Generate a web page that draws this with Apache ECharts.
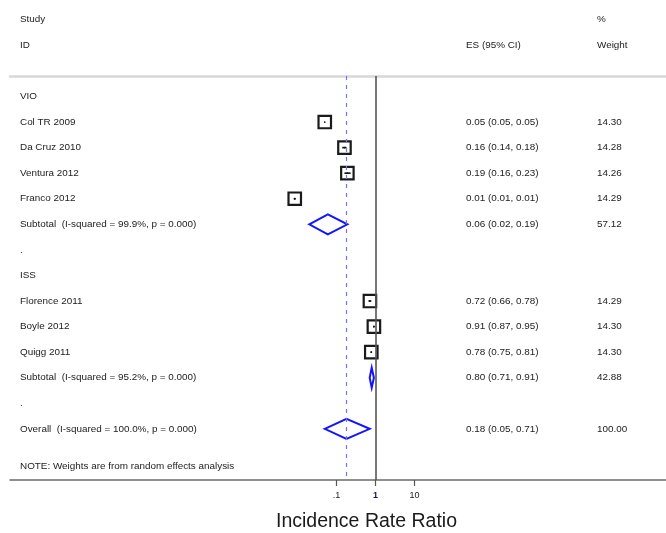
<!DOCTYPE html>
<html>
<head>
<meta charset="utf-8">
<script src="https://cdn.jsdelivr.net/npm/echarts@6/dist/echarts.min.js"></script>
<style>
html,body{margin:0;padding:0;background:#fff;}
#chart{width:666px;height:533px;}
</style>
</head>
<body>
<div id="chart"></div>
<script>
// ---- data ----
const rowLabels = ['VIO', 'Col TR 2009', 'Da Cruz 2010', 'Ventura 2012', 'Franco 2012',
  'Subtotal  (I-squared = 99.9%, p = 0.000)', '.', 'ISS', 'Florence 2011', 'Boyle 2012',
  'Quigg 2011', 'Subtotal  (I-squared = 95.2%, p = 0.000)', '.', 'Overall  (I-squared = 100.0%, p = 0.000)'];
const rowIndex = [0, 1, 2, 3, 4, 5, 6, 7, 8, 9, 10, 11, 12, 13];

const studyRows = [1, 2, 3, 4, 8, 9, 10];
const studyES = [0.05, 0.16, 0.19, 0.0085, 0.72, 0.91, 0.78];
const studyLo = [0.05, 0.14, 0.16, 0.008, 0.66, 0.87, 0.75];
const studyHi = [0.05, 0.18, 0.23, 0.009, 0.78, 0.95, 0.81];
const studyWeight = [14.30, 14.28, 14.26, 14.29, 14.29, 14.30, 14.30];

const pooledRows = [5, 11, 13];
const pooledES = [0.06, 0.80, 0.18];
const pooledLo = [0.02, 0.71, 0.05];
const pooledHi = [0.19, 0.91, 0.71];
const pooledWeight = [57.12, 42.88, 100.00];

const overallES = 0.18;
const nullValue = 1;
const tickValues = [0.1, 1, 10];
const tickLabels = ['.1', '1', '10'];

const headers = { study: 'Study', id: 'ID', es: 'ES (95% CI)', pct: '%', weight: 'Weight' };
const noteText = 'NOTE: Weights are from random effects analysis';
const xTitle = 'Incidence Rate Ratio';

// ---- layout ----
const FONT = '"Liberation Sans", Arial, sans-serif';
const FS = '9.9px ';
const TXT = '#222';
const xLeft = 10, xRight = 666;
const x1 = 375.5, decade = 39;           // pixel of value 1, pixels per decade
const axisY = 480, topY = 76;
const colLabel = 20, colES = 466, colW = 597;

const expMin = (xLeft - x1) / decade;
const expMax = (xRight - x1) / decade;

const studyData = studyRows.map((r, i) => [studyES[i], r, studyLo[i], studyHi[i], studyWeight[i]]);
const pooledData = pooledRows.map((r, i) => [pooledES[i], r, pooledLo[i], pooledHi[i], pooledWeight[i]]);
const fmt = v => v.toFixed(2);
const esText = (e, l, h) => fmt(e) + ' (' + fmt(l) + ', ' + fmt(h) + ')';

function textEl(x, y, text, opts) {
  return {
    type: 'text', x: x, y: y,
    style: Object.assign({ text: text, fill: TXT, font: FS + FONT, verticalAlign: 'middle', align: 'left' }, opts || {})
  };
}

const chart = echarts.init(document.getElementById('chart'), null, { renderer: 'canvas' });

const option = {
  backgroundColor: '#fff',
  animation: false,
  grid: [
    { left: xLeft, right: 666 - xRight, top: topY, bottom: 533 - axisY },
    { left: x1 - decade, right: 666 - (x1 + decade), top: topY, bottom: 533 - axisY }
  ],
  xAxis: [
    {
      gridIndex: 0, type: 'log', logBase: 10, position: 'bottom',
      min: Math.pow(10, expMin), max: Math.pow(10, expMax),
      axisLine: { show: true, onZero: false, lineStyle: { color: '#6a6a6a', width: 1.5 } },
      axisTick: { show: false }, axisLabel: { show: false }, splitLine: { show: false }
    },
    {
      gridIndex: 0, type: 'value', position: 'top', min: 0, max: 1,
      axisLine: { show: true, onZero: false, lineStyle: { color: '#d8d8d8', width: 2.5 } },
      axisTick: { show: false }, axisLabel: { show: false }, splitLine: { show: false }
    },
    {
      gridIndex: 1, type: 'log', logBase: 10, min: tickValues[0], max: tickValues[tickValues.length - 1],
      splitNumber: 2,
      axisLine: { show: false, onZero: false },
      axisTick: { show: true, length: 6, lineStyle: { color: '#555', width: 1.2 } },
      axisLabel: {
        show: true, margin: 11, fontSize: 9, fontFamily: FONT, color: TXT,
        formatter: function (v) {
          const e = Math.round(Math.log10(v));
          const idx = tickValues.findIndex(t => Math.round(Math.log10(t)) === e);
          if (idx < 0) return '';
          return tickValues[idx] === nullValue ? '{b|' + tickLabels[idx] + '}' : tickLabels[idx];
        },
        rich: { b: { fontWeight: 'bold', fontSize: 9, fontFamily: FONT, color: '#1a1a40' } }
      },
      splitLine: { show: false }
    }
  ],
  yAxis: [
    { gridIndex: 0, type: 'value', inverse: true, min: -0.8, max: 15, show: false },
    { gridIndex: 1, type: 'value', show: false }
  ],
  graphic: [
    textEl(colLabel, 19, headers.study),
    textEl(colLabel, 45.5, headers.id),
    textEl(colES, 45.5, headers.es),
    textEl(colW, 19, headers.pct),
    textEl(colW, 45.5, headers.weight),
    textEl(colLabel, 466, noteText),
    {
      type: 'text', x: (x1 - 9), y: 522,
      style: { text: xTitle, fill: '#1a1a1a', font: '19.5px ' + FONT, align: 'center', verticalAlign: 'middle' }
    }
  ],
  series: [
    {
      type: 'custom', xAxisIndex: 0, yAxisIndex: 0, silent: true, clip: false,
      data: rowIndex.map(r => [1, r]),
      renderItem: function (params, api) {
        const p = api.coord([1, api.value(1)]);
        return { type: 'text', x: colLabel, y: p[1],
          style: { text: rowLabels[params.dataIndex], fill: TXT, font: FS + FONT, verticalAlign: 'middle' } };
      }
    },
    {
      type: 'custom', xAxisIndex: 0, yAxisIndex: 0, silent: true, clip: false,
      data: studyData,
      renderItem: function (params, api) {
        const r = api.value(1);
        const c = api.coord([api.value(0), r]);
        const lo = api.coord([api.value(2), r]);
        const hi = api.coord([api.value(3), r]);
        const side = 3.3 * Math.sqrt(api.value(4));
        const i = params.dataIndex;
        return {
          type: 'group', children: [
            { type: 'line', shape: { x1: lo[0], y1: c[1], x2: hi[0], y2: c[1] }, style: { stroke: '#111', lineWidth: 1.6 } },
            { type: 'rect', shape: { x: c[0] - side / 2, y: c[1] - side / 2, width: side, height: side },
              style: { fill: 'none', stroke: '#1a1a1a', lineWidth: 2.2 } },
            { type: 'circle', shape: { cx: c[0], cy: c[1], r: 0.9 }, style: { fill: '#111' } },
            { type: 'text', x: colES, y: c[1], style: { text: esText(studyES[i], studyLo[i], studyHi[i]), fill: TXT, font: FS + FONT, verticalAlign: 'middle' } },
            { type: 'text', x: colW, y: c[1], style: { text: fmt(studyWeight[i]), fill: TXT, font: FS + FONT, verticalAlign: 'middle' } }
          ]
        };
      }
    },
    {
      type: 'custom', xAxisIndex: 0, yAxisIndex: 0, silent: true, clip: false,
      data: pooledData,
      renderItem: function (params, api) {
        const r = api.value(1);
        const c = api.coord([api.value(0), r]);
        const lo = api.coord([api.value(2), r]);
        const hi = api.coord([api.value(3), r]);
        const h = 10;
        const i = params.dataIndex;
        return {
          type: 'group', children: [
            { type: 'polygon', shape: { points: [[lo[0], c[1]], [c[0], c[1] - h], [hi[0], c[1]], [c[0], c[1] + h]] },
              style: { fill: 'none', stroke: '#1414ff', lineWidth: 2 } },
            { type: 'text', x: colES, y: c[1], style: { text: esText(pooledES[i], pooledLo[i], pooledHi[i]), fill: TXT, font: FS + FONT, verticalAlign: 'middle' } },
            { type: 'text', x: colW, y: c[1], style: { text: fmt(pooledWeight[i]), fill: TXT, font: FS + FONT, verticalAlign: 'middle' } }
          ]
        };
      },
      markLine: {
        silent: true, symbol: ['none', 'none'], label: { show: false },
        data: [
          { xAxis: overallES, lineStyle: { color: '#7373ff', type: [4, 5], width: 1.2 } },
          { xAxis: nullValue, lineStyle: { color: '#555', type: 'solid', width: 1.6 } }
        ]
      }
    }
  ]
};
chart.setOption(option);
</script>
</body>
</html>
